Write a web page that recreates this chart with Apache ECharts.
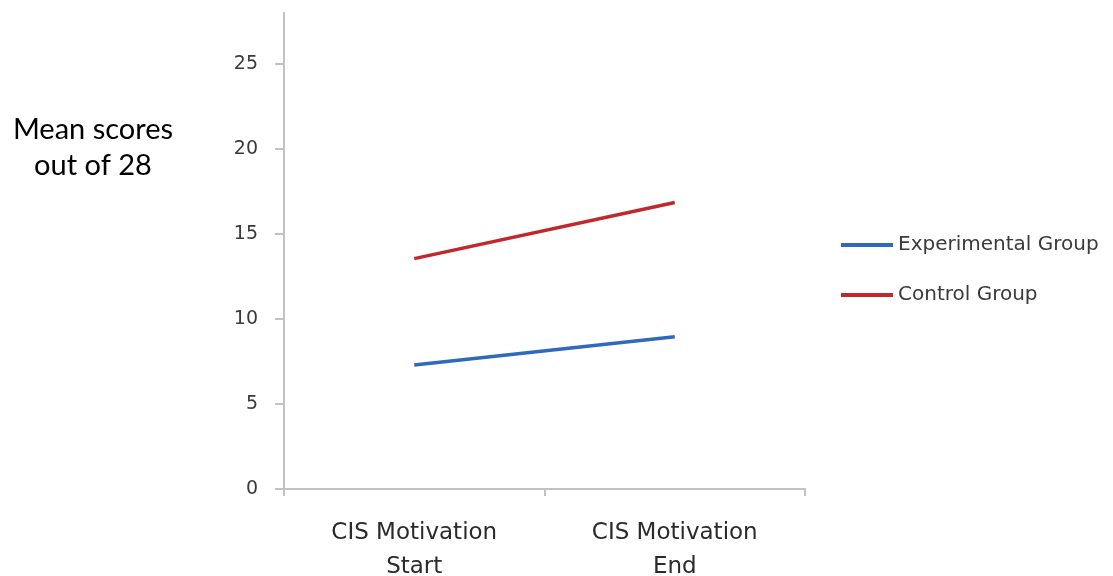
<!DOCTYPE html>
<html>
<head>
<meta charset="utf-8">
<script src="https://cdn.jsdelivr.net/npm/echarts@6/dist/echarts.min.js"></script>
<style>
  html, body { margin: 0; padding: 0; background: #fff; }
  #chart { width: 1113px; height: 576px; }
</style>
</head>
<body>
<div id="chart"></div>
<script>
// Survey phases along the x axis
const categories = ['CIS Motivation\nStart', 'CIS Motivation\nEnd'];
// Mean motivation scores (out of 28) for each group
const experimentalGroup = [7.3, 8.95];
const controlGroup = [13.55, 16.85];
// Labelled y-axis ticks
const yTicks = [0, 5, 10, 15, 20, 25];
const yMax = 28;

const axisGray = '#c2c2c2';
const labelFont = 'DejaVu Sans';

const chart = echarts.init(document.getElementById('chart'), null, { renderer: 'canvas' });

chart.setOption({
  animation: false,
  backgroundColor: '#ffffff',
  grid: { left: 284, right: 308, top: 13, bottom: 87, containLabel: false, outerBoundsMode: 'none' },
  xAxis: {
    type: 'category',
    data: categories,
    boundaryGap: true,
    axisLine: { show: true, lineStyle: { color: axisGray, width: 2 } },
    axisTick: { show: true, length: 7, lineStyle: { color: axisGray, width: 2 } },
    axisLabel: {
      margin: 27,
      fontFamily: labelFont,
      fontSize: 23,
      lineHeight: 34,
      color: '#2a2a2a'
    },
    splitLine: { show: false }
  },
  yAxis: {
    type: 'value',
    min: 0,
    max: yMax,
    interval: 5,
    axisLine: { show: true, lineStyle: { color: axisGray, width: 2 } },
    axisTick: { show: true, length: 9, customValues: yTicks, lineStyle: { color: axisGray, width: 2 } },
    axisLabel: {
      customValues: yTicks,
      margin: 26,
      fontFamily: labelFont,
      fontSize: 19,
      color: '#3a3a3a'
    },
    splitLine: { show: false }
  },
  legend: {
    orient: 'vertical',
    left: 841,
    top: 235,
    padding: 0,
    itemWidth: 52,
    itemHeight: 4,
    itemGap: 30,
    icon: 'rect',
    textStyle: { fontFamily: labelFont, fontSize: 20, color: '#3a3a3a', lineHeight: 20 },
    data: ['Experimental Group', 'Control Group']
  },
  graphic: [{
    type: 'text',
    x: 93,
    y: 112,
    style: {
      text: 'Mean scores\nout of 28',
      font: '29px Lato',
      fill: '#000000',
      textAlign: 'center',
      lineHeight: 36
    }
  }],
  series: [
    {
      name: 'Experimental Group',
      type: 'line',
      data: experimentalGroup,
      symbol: 'none',
      lineStyle: { color: '#2f69bd', width: 3.5 },
      itemStyle: { color: '#2f69bd' }
    },
    {
      name: 'Control Group',
      type: 'line',
      data: controlGroup,
      symbol: 'none',
      lineStyle: { color: '#c0282c', width: 3.5 },
      itemStyle: { color: '#c0282c' }
    }
  ]
});
</script>
</body>
</html>
